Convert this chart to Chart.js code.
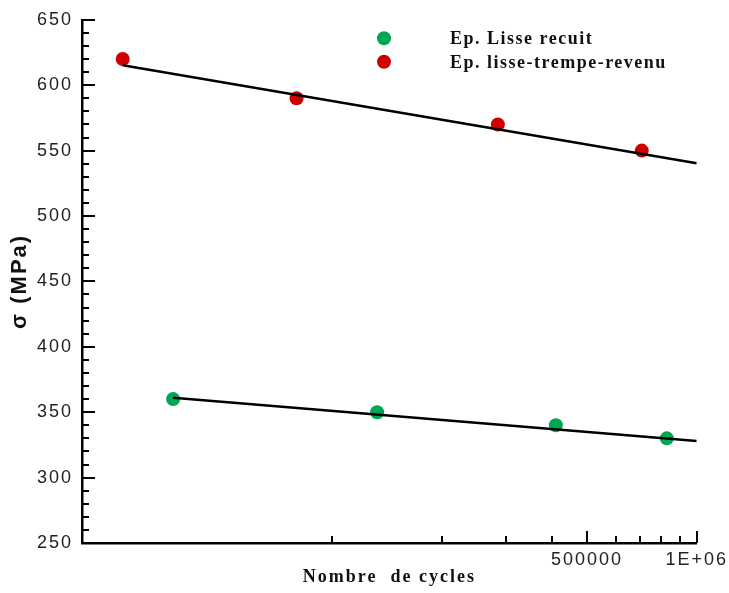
<!DOCTYPE html>
<html>
<head>
<meta charset="utf-8">
<title>Nombre de cycles - σ (MPa)</title>
<script src="https://cdn.jsdelivr.net/npm/chart.js@4/dist/chart.umd.min.js"></script>
<style>
  html, body { margin: 0; padding: 0; background: #ffffff; }
  #wrap { position: relative; width: 729px; height: 593px; }
</style>
</head>
<body>
<div id="wrap"><canvas id="chart"></canvas></div>
<script>
// Fatigue results: stress amplitude against number of cycles (log axis)
const seriesNames = ['Ep. Lisse recuit', 'Ep. lisse-trempe-revenu'];

const cyclesRecuit = [36700, 133000, 411000, 828000];
const sigmaRecuit  = [360, 350, 340, 330];

const cyclesTrempe = [26700, 80000, 285000, 707000];
const sigmaTrempe  = [620, 590, 570, 550];

// Trend lines, given by their two end points
const trendRecuitCycles = [36700, 1000000];
const trendRecuitSigma  = [361, 328];
const trendTrempeCycles = [26700, 1000000];
const trendTrempeSigma  = [615.3, 540.4];

// Axis ticks
const xTickValues = [100000, 200000, 300000, 400000, 500000, 600000, 700000, 800000, 900000, 1000000];
const xTickLabels = ['', '', '', '', '500000', '', '', '', '', '1E+06'];
const yTickLabels = ['250', '300', '350', '400', '450', '500', '550', '600', '650'];

const colRecuit = '#00a651';
const colTrempe = '#d10000';

const toPoints = (xs, ys) => xs.map((v, i) => ({ x: v, y: ys[i] }));

const sansFont = "'Liberation Sans', Arial, sans-serif";
const serifFont = "'Liberation Serif', 'Times New Roman', serif";

// Wider glyph spacing for all axis text
const spacingPlugin = {
  id: 'spacing',
  beforeDraw(chart) { chart.ctx.letterSpacing = '2px'; },
  afterDraw(chart) { chart.ctx.letterSpacing = '0px'; }
};

// Tick marks pointing into the plot: long on labelled ticks, short otherwise
const innerTicksPlugin = {
  id: 'innerTicks',
  afterDraw(chart) {
    const { ctx, chartArea: a, scales: { x, y } } = chart;
    ctx.save();
    ctx.strokeStyle = '#000';
    ctx.lineWidth = 2;
    y.ticks.forEach(t => {
      const py = Math.round(y.getPixelForValue(t.value));
      const len = yTickLabels.includes(String(t.value)) ? 13 : 7;
      ctx.beginPath();
      ctx.moveTo(a.left, py);
      ctx.lineTo(a.left + len, py);
      ctx.stroke();
    });
    x.ticks.forEach((t, i) => {
      const px = Math.round(x.getPixelForValue(t.value));
      const len = xTickLabels[i] ? 12 : 7;
      ctx.beginPath();
      ctx.moveTo(px, a.bottom);
      ctx.lineTo(px, a.bottom - len);
      ctx.stroke();
    });
    ctx.restore();
  }
};

// Legend block inside the plot area, markers on the left, names on the right
const legendBox = { markerX: 384, textX: 450, top: 38.3, rowGap: 23.4, radius: 7 };
const markerLegendPlugin = {
  id: 'markerLegend',
  afterDraw(chart) {
    const ctx = chart.ctx;
    const entries = chart.data.datasets.filter(d => !d.showLine);
    ctx.save();
    ctx.letterSpacing = '1.5px';
    ctx.font = 'bold 18px ' + serifFont;
    ctx.textAlign = 'left';
    ctx.textBaseline = 'alphabetic';
    entries.forEach((d, i) => {
      const cy = legendBox.top + i * legendBox.rowGap;
      ctx.fillStyle = d.backgroundColor;
      ctx.beginPath();
      ctx.arc(legendBox.markerX, cy, legendBox.radius, 0, Math.PI * 2);
      ctx.fill();
      ctx.fillStyle = '#111';
      ctx.fillText(d.label, legendBox.textX, cy + 6);
    });
    ctx.restore();
  }
};

const lineStyle = {
  type: 'scatter',
  showLine: true,
  borderColor: '#000',
  borderWidth: 2.5,
  pointRadius: 0,
  pointHoverRadius: 0,
  fill: false,
  order: 0
};

new Chart(document.getElementById('chart'), {
  type: 'scatter',
  data: {
    datasets: [
      {
        label: seriesNames[0],
        data: toPoints(cyclesRecuit, sigmaRecuit),
        backgroundColor: colRecuit,
        borderColor: colRecuit,
        borderWidth: 0,
        pointRadius: 7,
        showLine: false,
        order: 1
      },
      {
        label: seriesNames[1],
        data: toPoints(cyclesTrempe, sigmaTrempe),
        backgroundColor: colTrempe,
        borderColor: colTrempe,
        borderWidth: 0,
        pointRadius: 7,
        showLine: false,
        order: 1
      },
      Object.assign({ label: 'trend recuit', data: toPoints(trendRecuitCycles, trendRecuitSigma) }, lineStyle),
      Object.assign({ label: 'trend trempe', data: toPoints(trendTrempeCycles, trendTrempeSigma) }, lineStyle)
    ]
  },
  options: {
    responsive: true,
    maintainAspectRatio: false,
    animation: false,
    layout: { padding: { top: 18, right: 32, bottom: 0, left: 0 } },
    plugins: {
      legend: { display: false },
      tooltip: { enabled: false }
    },
    scales: {
      x: {
        type: 'logarithmic',
        position: 'bottom',
        min: 20650,
        max: 1000000,
        bounds: 'data',
        afterBuildTicks(scale) {
          scale.ticks = xTickValues.map(v => ({ value: v }));
        },
        afterFit(scale) { scale.height = 50; },
        grid: { display: false, drawTicks: false },
        border: { display: true, color: '#000', width: 2.5 },
        ticks: {
          autoSkip: false,
          maxRotation: 0,
          padding: 6,
          color: '#222',
          font: { family: sansFont, size: 18 },
          callback: (value, index) => xTickLabels[index]
        },
        title: {
          display: true,
          text: 'Nombre  de cycles',
          color: '#111',
          font: { family: serifFont, size: 18, weight: 'bold' },
          padding: { top: 0, bottom: 5 }
        }
      },
      y: {
        type: 'linear',
        position: 'left',
        min: 250,
        max: 650,
        afterFit(scale) { scale.width = 82; },
        grid: { display: false, drawTicks: false },
        border: { display: true, color: '#000', width: 2.5 },
        ticks: {
          stepSize: 10,
          autoSkip: false,
          padding: 9,
          color: '#222',
          font: { family: sansFont, size: 18 },
          callback: value => (yTickLabels.includes(String(value)) ? String(value) : '')
        },
        title: {
          display: true,
          text: 'σ (MPa)',
          color: '#111',
          font: { family: sansFont, size: 22, weight: 'bold' },
          padding: { top: 7, bottom: 0 }
        }
      }
    }
  },
  plugins: [spacingPlugin, innerTicksPlugin, markerLegendPlugin]
});
</script>
</body>
</html>
